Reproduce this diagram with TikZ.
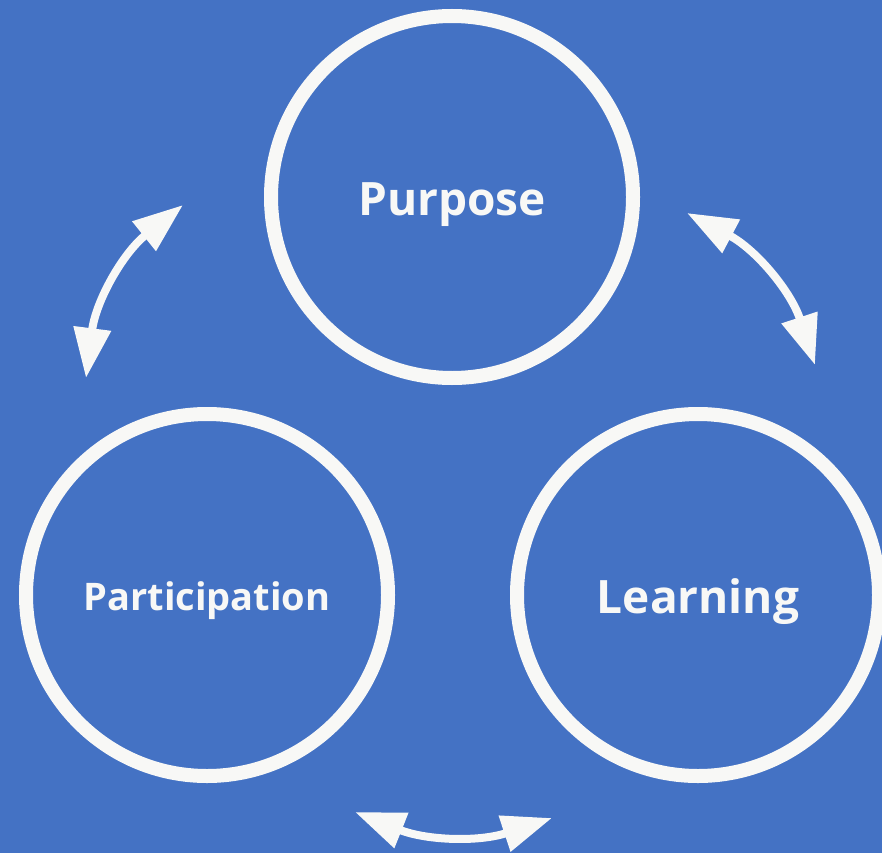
\documentclass[tikz,border=0pt]{standalone}
\usepackage{fontspec}
\setmainfont{Open Sans}
\usetikzlibrary{arrows.meta}
\definecolor{slideblue}{HTML}{4472C4}
\definecolor{chalk}{HTML}{F8F8F6}

\begin{document}
\begin{tikzpicture}[
  x=1pt, y=-1pt,
  ringnode/.style={%
    circle,%
    draw=chalk,%
    line width=14pt,%
    text=chalk,%
    font=\bfseries,%
    minimum size=362pt,%
    inner sep=0pt%
  },
  swaparrow/.style={%
    draw=chalk,%
    line width=8pt,%
    {Triangle[length=50pt,width=36pt]}-{Triangle[length=50pt,width=36pt]}%
  }
]

  \fill [slideblue] (0,0) rectangle (882,853);
  \useasboundingbox (0,0) rectangle (882,853);

  \node [ringnode] (purpose)  at (452,197) {\raisebox{-18.5pt}[0pt][0pt]{\fontsize{46}{50}\selectfont Purpose}};
  \node [ringnode] (particip) at (207,595) {\raisebox{-15.5pt}[0pt][0pt]{\fontsize{38}{42}\selectfont Participation}};
  \node [ringnode] (learning) at (698,595) {\raisebox{-18.5pt}[0pt][0pt]{\fontsize{46}{50}\selectfont Learning}};

  % free ends of the arrows
  \coordinate (pl1) at (86,378);
  \coordinate (pl2) at (183,205);
  \coordinate (pr1) at (687,213);
  \coordinate (pr2) at (815,365);
  \coordinate (lb1) at (355,812);
  \coordinate (lb2) at (552,818);

  \draw[swaparrow] (pl1) to[bend left=22] (pl2);
  \draw[swaparrow] (pr1) to[bend left=22] (pr2);
  \draw[swaparrow] (lb1) to[bend right=20] (lb2);

\end{tikzpicture}
\end{document}
